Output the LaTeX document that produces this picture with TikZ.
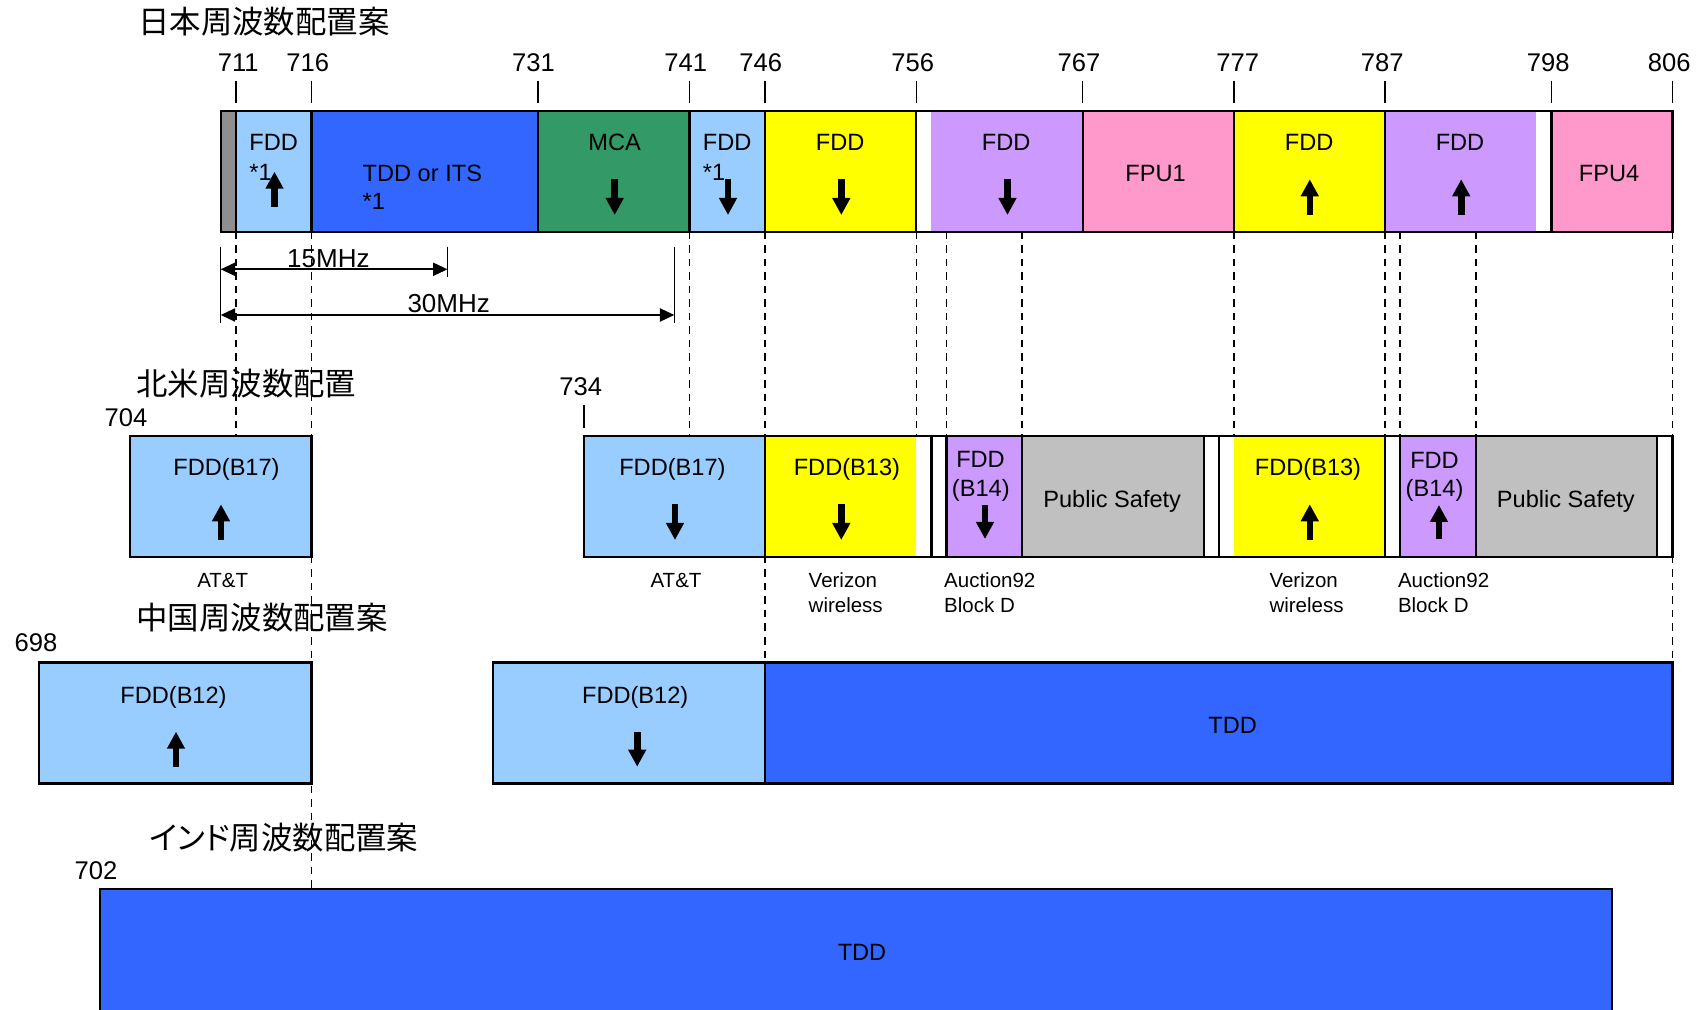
\documentclass[tikz,border=0pt]{standalone}
\usepackage{fontspec}
\setmainfont{Liberation Sans}
\newfontfamily\jpfont{Noto Sans CJK JP}
\newfontfamily\jpfontp[RawFeature=+palt]{Noto Sans CJK JP}
\usetikzlibrary{arrows.meta}
\definecolor{lblue}{HTML}{99CCFF}
\definecolor{tblue}{HTML}{3366FF}
\definecolor{mcagreen}{HTML}{339966}
\definecolor{yel}{HTML}{FFFF00}
\definecolor{purp}{HTML}{CC99FF}
\definecolor{pinkc}{HTML}{FF99CC}
\definecolor{dgray}{HTML}{8F8F8F}
\definecolor{silv}{HTML}{C0C0C0}
\begin{document}
\begin{tikzpicture}[x=0.5pt,y=-0.5pt,
  declare function={fx(\f)=235.8+(\f-711)*15.123;},
  bandline/.style={draw=black,line width=1.1pt},
  lbl/.style={font=\fontsize{11.8pt}{14pt}\selectfont,inner sep=0pt,anchor=base},
  lblw/.style={lbl,anchor=base west},
  numlbl/.style={font=\fontsize{12.8pt}{15pt}\selectfont,inner sep=0pt,anchor=base},
  smalllbl/.style={font=\fontsize{10.25pt}{12.5pt}\selectfont,inner sep=0pt,anchor=base west},
  dimlbl/.style={font=\fontsize{13pt}{15pt}\selectfont,inner sep=0pt,anchor=base},
  ttl/.style={font=\jpfont\fontsize{15.7pt}{18pt}\selectfont,inner sep=0pt,anchor=west},
  ttlp/.style={font=\jpfontp\fontsize{15.7pt}{18pt}\selectfont,inner sep=0pt,anchor=west},
  guide/.style={line width=0.8pt,dash pattern=on 3.75pt off 3pt},
  tickline/.style={line width=0.8pt},
  fat/.style={line width=3.3pt,-{Triangle[width=8.5pt,length=8.5pt]}},
  dimarrow/.style={line width=1pt,{Triangle[width=6.5pt,length=7.2pt]}-{Triangle[width=6.5pt,length=7.2pt]}},
]
\useasboundingbox (0,0) rectangle (1704,1010);
\clip (0,0) rectangle (1704,1010);
\fill[white] (0,0) rectangle (1704,1010);

% ---------- dashed guides ----------
\foreach \f/\e in {711/436,716/889.3,741/436,746/662.5,756/436,758/436,763/436,777/436,787/436,788/436,793/436,806/662.5}{
  \coordinate (gt\f) at ({fx(\f)},232);
  \coordinate (gb\f) at ({fx(\f)},\e);
  \draw[guide] (gt\f) -- (gb\f);
}

% ---------- titles ----------
\node[ttl] (tjp) at (138,22) {日本周波数配置案};
\node[ttl] (tna) at (136,384) {北米周波数配置};
\node[ttl] (tcn) at (136,617.5) {中国周波数配置案};
\node[ttlp] (tin) at (149,837.8) {インド周波数配置案};

% ---------- Japan band ----------
\foreach \a/\b/\c in {710/711/dgray,711/716/lblue,716/731/tblue,731/741/mcagreen,741/746/lblue,746/756/yel,757/767/purp,767/777/pinkc,777/787/yel,787/797/purp,798/806/pinkc}{
  \fill[\c] ({fx(\a)},111) rectangle ({fx(\b)},232);
}
\foreach \f in {711,716,731,741,746,756,767,777,787,798}{
  \draw[bandline] ({fx(\f)},111) -- ({fx(\f)},232);
}
\draw[bandline] ({fx(710)},111) rectangle ({fx(806)},232);
\foreach \f in {711,716,731,741,746,756,767,777,787,798,806}{
  \draw[tickline] ({fx(\f)},80.7) -- ({fx(\f)},103.3);
}
\foreach \f/\x in {711/238.3,716/307.8,731/533.6,741/685.7,746/760.7,756/912.8,767/1079,777/1237.7,787/1382.3,798/1548.3,806/1669.3}{
  \node[numlbl] (jn\f) at (\x,71.3) {\f};
}

\node[lblw] (jfdda) at (249,151) {FDD};
\node[lblw] (jsta) at (249,181) {*1};
\node[lblw] (jtdd) at (362.3,181.7) {TDD or ITS};
\node[lblw] (jstb) at (362.3,210) {*1};
\node[lbl] (jmca) at (614.7,151) {MCA};
\node[lblw] (jfddb) at (702.5,151) {FDD};
\node[lblw] (jstc) at (702.5,181) {*1};
\node[lbl] (jfddc) at (840.1,151) {FDD};
\node[lbl] (jfddd) at (1006.2,151) {FDD};
\node[lbl] (jfpua) at (1155.6,181.7) {FPU1};
\node[lbl] (jfdde) at (1309.2,151) {FDD};
\node[lbl] (jfddf) at (1460,151) {FDD};
\node[lbl] (jfpub) at (1609,181.7) {FPU4};

\draw[fat] (274.5,207) -- (274.5,171.7);
\draw[fat] (614.7,179.3) -- (614.7,215);
\draw[fat] (728,179.3) -- (728,215);
\draw[fat] (841.3,179.3) -- (841.3,215);
\draw[fat] (1007.5,179.3) -- (1007.5,215);
\draw[fat] (1309.8,215) -- (1309.8,179.3);
\draw[fat] (1461.2,215) -- (1461.2,179.3);

% ---------- dimension arrows ----------
\coordinate (dLt) at ({fx(710)},246.7);
\coordinate (dLb) at ({fx(710)},323.3);
\coordinate (d15t) at ({fx(725)},246.7);
\coordinate (d15b) at ({fx(725)},277.3);
\coordinate (d30t) at ({fx(740)},246.7);
\coordinate (d30b) at ({fx(740)},323.3);
\coordinate (a15l) at ({fx(710)},269.3);
\coordinate (a15r) at ({fx(725)},269.3);
\coordinate (a30l) at ({fx(710)},315);
\coordinate (a30r) at ({fx(740)},315);
\draw[tickline] (dLt) -- (dLb);
\draw[tickline] (d15t) -- (d15b);
\draw[tickline] (d30t) -- (d30b);
\draw[dimarrow] (a15l) -- (a15r);
\draw[dimarrow] (a30l) -- (a30r);
\node[dimlbl] (l15) at (328.4,267.3) {15MHz};
\node[dimlbl] (l30) at (448.7,312.7) {30MHz};

% ---------- North America ----------
\fill[lblue] ({fx(704)},436) rectangle ({fx(716)},557);
\draw[bandline] ({fx(704)},436) rectangle ({fx(716)},557);
\foreach \a/\b/\c in {734/746/lblue,746/756/yel,758/763/purp,763/775/silv,777/787/yel,788/793/purp,793/805/silv}{
  \fill[\c] ({fx(\a)},436) rectangle ({fx(\b)},557);
}
\foreach \f in {746,757,758,763,775,776,787,788,793,805}{
  \draw[bandline] ({fx(\f)},436) -- ({fx(\f)},557);
}
\draw[bandline] ({fx(734)},436) rectangle ({fx(806)},557);
\node[numlbl] (n704) at (126,426.7) {704};
\node[numlbl] (n734) at (580.8,396) {734};
\draw[tickline] (584,405) -- (584,428.3);

\node[lbl] (nfa) at (226.5,476) {FDD(B17)};
\node[lbl] (nfb) at (672.4,476) {FDD(B17)};
\node[lbl] (nfc) at (846.9,476) {FDD(B13)};
\node[lbl] (nfd) at (1308,476) {FDD(B13)};
\node[lbl] (nfe) at (980.5,468) {FDD};
\node[lbl] (nfe2) at (980.8,496.5) {(B14)};
\node[lbl] (nff) at (1434.5,469) {FDD};
\node[lbl] (nff2) at (1434.5,497) {(B14)};
\node[lbl] (nps1) at (1112.2,507.3) {Public Safety};
\node[lbl] (nps2) at (1565.8,507.3) {Public Safety};

\draw[fat] (221,540) -- (221,504.3);
\draw[fat] (675,504.3) -- (675,540);
\draw[fat] (841.3,504.3) -- (841.3,540);
\draw[fat] (985,505) -- (985,539);
\draw[fat] (1309.8,540) -- (1309.8,504.3);
\draw[fat] (1439,539.3) -- (1439,505);

\node[smalllbl,anchor=base] (att1) at (222.7,587.7) {AT\&T};
\node[smalllbl,anchor=base] (att2) at (676,587.7) {AT\&T};
\node[smalllbl] (vz1) at (808.3,587.7) {Verizon};
\node[smalllbl] (vz1b) at (808.3,612.7) {wireless};
\node[smalllbl] (au1) at (943.8,587.7) {Auction92};
\node[smalllbl] (au1b) at (943.8,612.7) {Block D};
\node[smalllbl] (vz2) at (1269.1,587.7) {Verizon};
\node[smalllbl] (vz2b) at (1269.1,612.7) {wireless};
\node[smalllbl] (au2) at (1397.6,587.7) {Auction92};
\node[smalllbl] (au2b) at (1397.6,612.7) {Block D};

% ---------- China ----------
\fill[lblue] ({fx(698)},662.5) rectangle ({fx(716)},783.5);
\draw[bandline] ({fx(698)},662.5) rectangle ({fx(716)},783.5);
\fill[lblue] ({fx(728)},662.5) rectangle ({fx(746)},783.5);
\fill[tblue] ({fx(746)},662.5) rectangle ({fx(806)},783.5);
\draw[bandline] ({fx(746)},662.5) -- ({fx(746)},783.5);
\draw[bandline] ({fx(728)},662.5) rectangle ({fx(806)},783.5);
\node[numlbl] (c698) at (35.9,652) {698};
\node[lbl] (cfa) at (173.5,703.3) {FDD(B12)};
\node[lbl] (cfb) at (635.2,703.3) {FDD(B12)};
\node[lbl] (ctdd) at (1232.6,733.9) {TDD};
\draw[fat] (176,766.7) -- (176,731.7);
\draw[fat] (637.2,731.7) -- (637.2,766.7);

% ---------- India ----------
\fill[tblue] ({fx(702)},889.3) rectangle ({fx(802)},1030);
\draw[bandline] ({fx(702)},889.3) rectangle ({fx(802)},1030);
\node[numlbl] (i702) at (96,879.3) {702};
\node[lbl] (itdd) at (862,960.4) {TDD};
\end{tikzpicture}
\end{document}
